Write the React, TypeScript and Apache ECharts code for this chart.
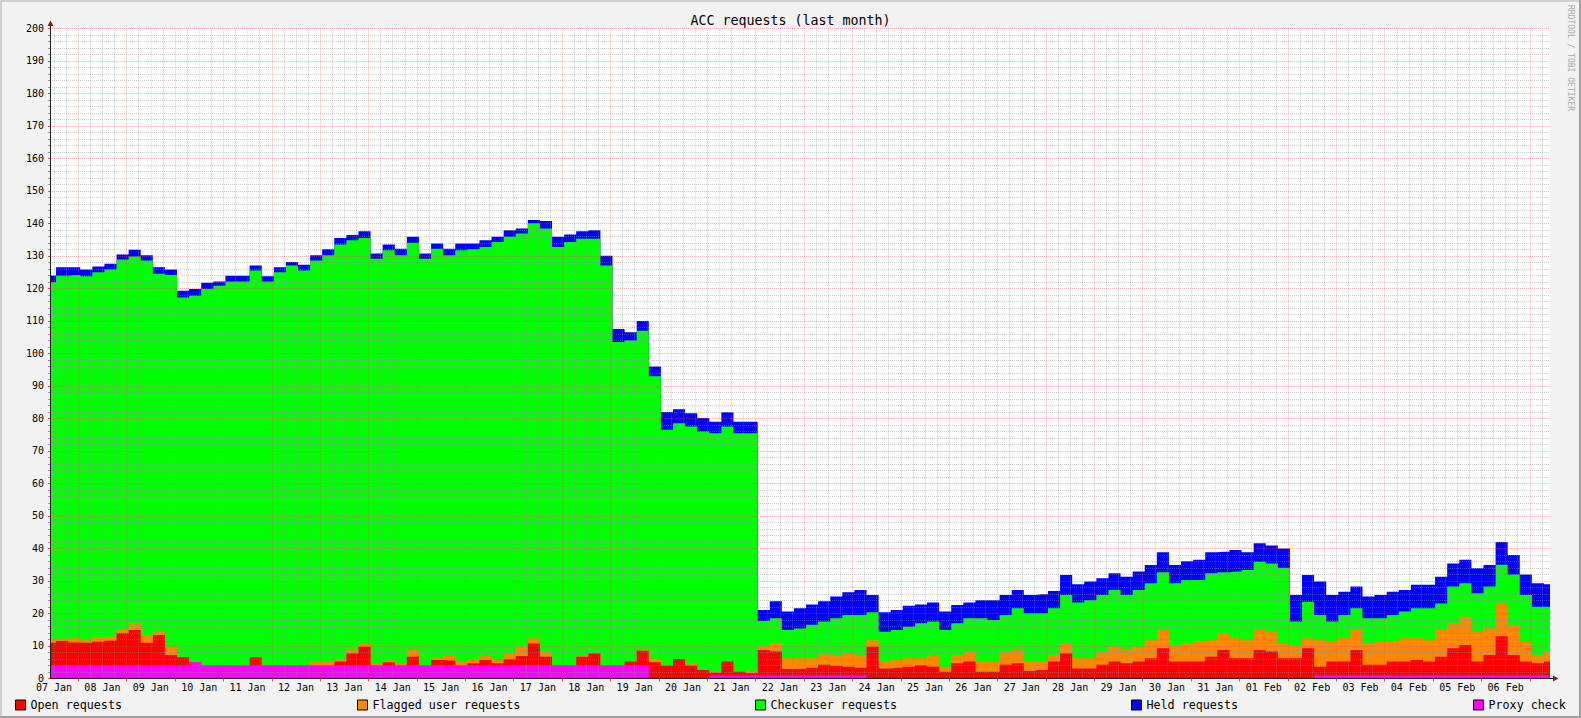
import React, { useEffect, useRef } from "react";
import * as echarts from "echarts";

// Tick labels (each centred at noon of its day)
const dayLabels = [
  "07 Jan", "08 Jan", "09 Jan", "10 Jan", "11 Jan", "12 Jan", "13 Jan", "14 Jan", "15 Jan", "16 Jan",
  "17 Jan", "18 Jan", "19 Jan", "20 Jan", "21 Jan", "22 Jan", "23 Jan", "24 Jan", "25 Jan", "26 Jan",
  "27 Jan", "28 Jan", "29 Jan", "30 Jan", "31 Jan", "01 Feb", "02 Feb", "03 Feb", "04 Feb", "05 Feb",
  "06 Feb",
];

// x positions: hours since 07 Jan 00:00; samples every 6 h from 07 Jan 10:00 to 07 Feb 10:00
const sampleHours = Array.from({ length: 125 }, (_, i) => 10 + 6 * i);
const xMin = 10;
const xMax = 754;
const majorGridHours = Array.from({ length: 31 }, (_, k) => 24 * (k + 1));
const minorGridHours = Array.from({ length: 125 }, (_, k) => 12 + 6 * k).filter((h) => h % 24 !== 0 && h < xMax);
const labelHours = Array.from({ length: 31 }, (_, k) => 12 + 24 * k);

// Top edge of each coloured layer
const heldTop = [
  124.0, 126.5, 126.5, 125.8, 126.7, 127.6, 130.4, 131.9, 130.2, 126.5,
  125.8, 119.3, 119.8, 121.7, 122.1, 123.9, 123.9, 127.0, 123.7, 126.5,
  128.1, 127.3, 130.2, 132.0, 135.5, 136.4, 137.6, 130.7, 133.5, 132.2,
  135.9, 130.7, 133.8, 132.2, 133.8, 133.8, 134.8, 135.9, 137.9, 138.4,
  141.0, 140.7, 135.9, 136.6, 137.6, 137.9, 130.0, 107.5, 106.5, 110.0,
  96.0, 82.0, 82.8, 81.6, 80.1, 79.0, 81.9, 79.0, 79.0, 21.1,
  23.8, 20.6, 21.6, 22.8, 23.8, 25.2, 26.5, 27.2, 25.7, 20.4,
  21.1, 22.4, 22.8, 23.4, 20.6, 22.6, 23.4, 24.1, 24.1, 25.7,
  27.2, 25.7, 25.9, 26.9, 31.8, 29.0, 29.8, 30.8, 32.4, 31.3,
  32.9, 34.9, 38.8, 34.9, 36.1, 36.5, 38.8, 39.0, 39.5, 38.8,
  41.6, 40.9, 40.0, 25.7, 31.8, 29.8, 25.7, 26.7, 28.3, 25.2,
  25.7, 26.7, 27.2, 28.8, 28.8, 31.3, 35.4, 36.5, 33.9, 34.9,
  42.0, 38.0, 32.0, 29.3, 29.0,
];
const checkuserTop = [
  121.9, 123.9, 124.1, 123.7, 125.0, 125.8, 128.9, 129.8, 128.6, 124.5,
  124.1, 117.2, 117.7, 119.8, 120.8, 122.1, 122.1, 125.5, 122.1, 125.0,
  127.0, 125.5, 128.6, 130.2, 133.5, 134.8, 135.5, 129.1, 131.7, 130.2,
  134.0, 129.1, 132.2, 130.2, 131.7, 132.0, 132.7, 134.3, 135.9, 136.9,
  140.0, 138.4, 132.7, 134.3, 135.3, 135.3, 127.0, 103.5, 104.0, 107.0,
  93.0, 76.5, 78.5, 77.5, 76.0, 75.4, 77.5, 75.4, 75.4, 17.7,
  18.5, 14.9, 15.4, 16.5, 17.5, 18.5, 19.5, 19.5, 20.4, 14.4,
  14.9, 15.9, 17.0, 17.5, 14.9, 17.0, 18.5, 18.5, 18.0, 19.5,
  21.6, 20.1, 20.1, 21.6, 25.7, 23.4, 24.1, 25.7, 27.2, 25.7,
  27.2, 29.3, 32.7, 29.3, 30.3, 30.3, 32.4, 32.7, 32.9, 33.4,
  35.9, 35.4, 34.1, 17.5, 23.6, 19.5, 17.5, 19.5, 21.6, 18.5,
  18.5, 19.5, 20.6, 21.6, 21.6, 23.1, 28.3, 29.3, 26.2, 28.3,
  35.0, 32.0, 25.7, 22.1, 22.1,
];
const flaggedTop = [
  11.8, 12.2, 12.4, 11.8, 12.7, 12.9, 14.9, 17.0, 13.1, 14.4,
  9.8, 6.5, 5.0, 4.0, 4.0, 4.0, 4.0, 6.5, 4.0, 4.0,
  4.0, 4.0, 5.0, 5.2, 5.9, 8.8, 10.8, 4.5, 5.5, 4.5,
  8.8, 4.0, 6.2, 7.0, 5.2, 5.7, 7.2, 5.7, 7.7, 9.8,
  12.4, 8.3, 4.0, 4.0, 6.9, 7.9, 4.0, 4.0, 5.2, 8.8,
  6.0, 4.0, 6.0, 4.7, 2.6, 2.1, 5.2, 2.1, 2.4, 9.8,
  10.8, 6.2, 6.2, 6.2, 7.4, 7.2, 7.7, 7.2, 11.8, 5.2,
  5.7, 6.2, 6.2, 7.2, 3.6, 7.2, 8.3, 5.2, 5.2, 8.3,
  8.8, 5.2, 5.2, 7.2, 10.8, 6.2, 6.2, 8.3, 9.8, 8.8,
  9.8, 11.8, 14.9, 10.3, 10.8, 11.5, 11.8, 13.9, 12.4, 11.8,
  14.9, 14.4, 10.8, 10.3, 12.4, 11.8, 11.3, 12.4, 14.9, 10.8,
  11.3, 11.5, 12.4, 12.4, 11.8, 14.9, 17.0, 19.0, 14.4, 15.4,
  23.0, 16.5, 11.3, 7.2, 8.3,
];
const openTop = [
  11.0, 11.5, 11.1, 11.0, 11.3, 11.6, 13.9, 14.9, 11.0, 13.4,
  7.2, 6.5, 5.0, 4.0, 4.0, 4.0, 4.0, 6.5, 4.0, 4.0,
  4.0, 4.0, 4.0, 4.0, 5.2, 7.7, 9.8, 4.0, 5.0, 4.0,
  6.7, 4.0, 5.7, 5.5, 4.0, 4.7, 5.7, 4.7, 5.9, 6.9,
  10.8, 6.7, 4.0, 4.0, 6.7, 7.7, 4.0, 4.0, 5.2, 8.5,
  5.0, 4.0, 6.0, 4.0, 2.6, 1.8, 5.2, 2.1, 1.6, 8.8,
  8.3, 2.9, 2.9, 3.3, 4.2, 3.9, 3.6, 3.3, 9.8, 3.1,
  3.3, 3.6, 4.1, 3.6, 2.1, 4.7, 5.2, 2.1, 2.1, 4.2,
  4.7, 2.3, 2.6, 5.2, 7.7, 3.1, 3.1, 4.2, 5.2, 4.7,
  5.2, 6.2, 9.3, 5.2, 5.2, 5.2, 6.7, 8.8, 6.2, 6.2,
  8.8, 8.3, 6.2, 6.2, 9.3, 3.6, 5.2, 5.2, 8.8, 4.2,
  4.2, 5.2, 5.2, 5.7, 5.2, 6.7, 9.3, 10.3, 5.2, 7.2,
  13.0, 7.2, 5.2, 4.7, 5.2,
];
const proxyCheck = [
  4, 4, 4, 4, 4, 4, 4, 4, 4, 4,
  4, 4, 5, 4, 4, 4, 4, 4, 4, 4,
  4, 4, 4, 4, 4, 4, 4, 4, 4, 4,
  4, 4, 4, 4, 4, 4, 4, 4, 4, 4,
  4, 4, 4, 4, 4, 4, 4, 4, 4, 4,
  0, 0, 0, 0, 0, 1, 1, 1, 1, 1,
  1, 1, 1, 1, 1, 1, 1, 1, 0, 0,
  0, 0, 0, 0, 0, 0, 0, 0, 0, 0,
  0, 0, 0, 0, 0, 0, 0, 0, 0, 0,
  0, 0, 0, 0, 0, 0, 0, 0, 0, 0,
  0, 0, 0, 0, 0, 1, 1, 1, 1, 1,
  1, 1, 1, 1, 1, 1, 1, 1, 1, 1,
  1, 1, 1, 1, 1,
];

const seriesNames = ["Open requests", "Flagged user requests", "Checkuser requests", "Held requests", "Proxy check"];
const seriesColors = ["#ff0000", "#ff8800", "#00ff00", "#0000ff", "#ff00ff"];
const legendLeft = [15, 357, 755, 1131, 1473];

const MONO = '"DejaVu Sans Mono", monospace';
const MAJOR = "rgba(222,79,79,0.4)";
const MINOR = "rgba(143,143,143,0.45)";

export default function App() {
  const ref = useRef<HTMLDivElement>(null);
  useEffect(() => {
    document.body.style.margin = "0";
    const chart = echarts.init(ref.current!, null, { renderer: "svg" });
    const mk = (arr: number[]) => sampleHours.map((h, i) => [h, arr[i]]);
    const area = (idx: number, arr: number[]) => ({
      type: "line",
      name: seriesNames[idx],
      data: mk(arr),
      step: "middle",
      symbol: "none",
      showSymbol: false,
      silent: true,
      z: 1,
      lineStyle: { width: 0, color: seriesColors[idx] },
      itemStyle: { color: seriesColors[idx] },
      areaStyle: { color: seriesColors[idx], opacity: 1 },
    });
    chart.setOption({
      animation: false,
      backgroundColor: "#f2f2f2",
      title: {
        text: "ACC requests (last month)",
        left: "center",
        top: 14,
        padding: 0,
        textStyle: { fontFamily: MONO, fontSize: 13.3, fontWeight: "normal", color: "#000" },
      },
      grid: { left: 50, right: 31, top: 28.3, bottom: 39.5, show: true, backgroundColor: "#ffffff", borderWidth: 0, z: 0 },
      xAxis: [
        {
          type: "value",
          min: xMin,
          max: xMax,
          position: "bottom",
          z: 4,
          axisLine: { show: true, lineStyle: { color: "#202020", width: 1 } },
          axisTick: { show: true, customValues: majorGridHours, length: 3, lineStyle: { color: "#de4f4f" } },
          axisLabel: {
            customValues: labelHours,
            formatter: (v: number) => dayLabels[Math.round((v - 12) / 24)] ?? "",
            fontFamily: MONO,
            fontSize: 10,
            color: "#000",
            margin: 4,
          },
          splitLine: { show: true, lineStyle: { color: MAJOR, type: [1, 1], width: 1 } },
        },
        {
          type: "value",
          min: xMin,
          max: xMax,
          position: "top",
          z: 3,
          axisLine: { show: false },
          axisTick: { show: false, customValues: minorGridHours },
          axisLabel: { show: false },
          splitLine: { show: true, lineStyle: { color: MINOR, type: [1, 1], width: 1 } },
        },
      ],
      yAxis: {
        type: "value",
        min: 0,
        max: 200,
        interval: 10,
        z: 4,
        axisLine: { show: true, lineStyle: { color: "#202020", width: 1 } },
        axisTick: { show: true, length: 2, lineStyle: { color: "#de4f4f" } },
        minorTick: { show: true, splitNumber: 5, length: 2, lineStyle: { color: "#999999" } },
        axisLabel: { fontFamily: MONO, fontSize: 10, color: "#000", margin: 6 },
        splitLine: { show: true, lineStyle: { color: MAJOR, type: [1, 1], width: 1 } },
        minorSplitLine: { show: true, lineStyle: { color: MINOR, type: [1, 1], width: 1 } },
      },
      legend: seriesNames.map((name, i) => ({
        data: [name],
        left: legendLeft[i],
        top: 699,
        padding: 0,
        icon: "rect",
        itemWidth: 10,
        itemHeight: 10,
        selectedMode: false,
        itemStyle: { borderColor: "#000", borderWidth: 1 },
        textStyle: { fontFamily: MONO, fontSize: 11.7, color: "#000" },
      })),
      series: [
        area(3, heldTop),
        area(2, checkuserTop),
        area(1, flaggedTop),
        area(0, openTop),
        area(4, proxyCheck),
      ],
      graphic: [
        { type: "rect", shape: { x: 0, y: 0, width: 1581, height: 2 }, style: { fill: "#cfcfcf" }, silent: true },
        { type: "rect", shape: { x: 0, y: 0, width: 2, height: 718 }, style: { fill: "#cfcfcf" }, silent: true },
        { type: "rect", shape: { x: 0, y: 716, width: 1581, height: 2 }, style: { fill: "#9e9e9e" }, silent: true },
        { type: "rect", shape: { x: 1579, y: 0, width: 2, height: 718 }, style: { fill: "#9e9e9e" }, silent: true },
        { type: "line", shape: { x1: 50.5, y1: 28.5, x2: 50.5, y2: 25 }, style: { stroke: "#202020", lineWidth: 1 }, silent: true },
        { type: "polygon", shape: { points: [[47.5, 26], [53.5, 26], [50.5, 20.5]] }, style: { fill: "#801f1f" }, silent: true },
        { type: "line", shape: { x1: 1549, y1: 678.5, x2: 1553, y2: 678.5 }, style: { stroke: "#202020", lineWidth: 1 }, silent: true },
        { type: "polygon", shape: { points: [[1553, 675.5], [1553, 681.5], [1558.5, 678.5]] }, style: { fill: "#801f1f" }, silent: true },
        {
          type: "text",
          x: 1570,
          y: 5,
          rotation: -Math.PI / 2,
          silent: true,
          style: { text: "RRDTOOL / TOBI OETIKER", fill: "#aaaaaa", font: '8px "DejaVu Sans Mono", monospace', textAlign: "left", textVerticalAlign: "middle" },
        },
      ],
    });
    return () => chart.dispose();
  }, []);
  return <div ref={ref} style={{ position: "fixed", left: 0, top: 0, width: 1581, height: 718 }} />;
}
